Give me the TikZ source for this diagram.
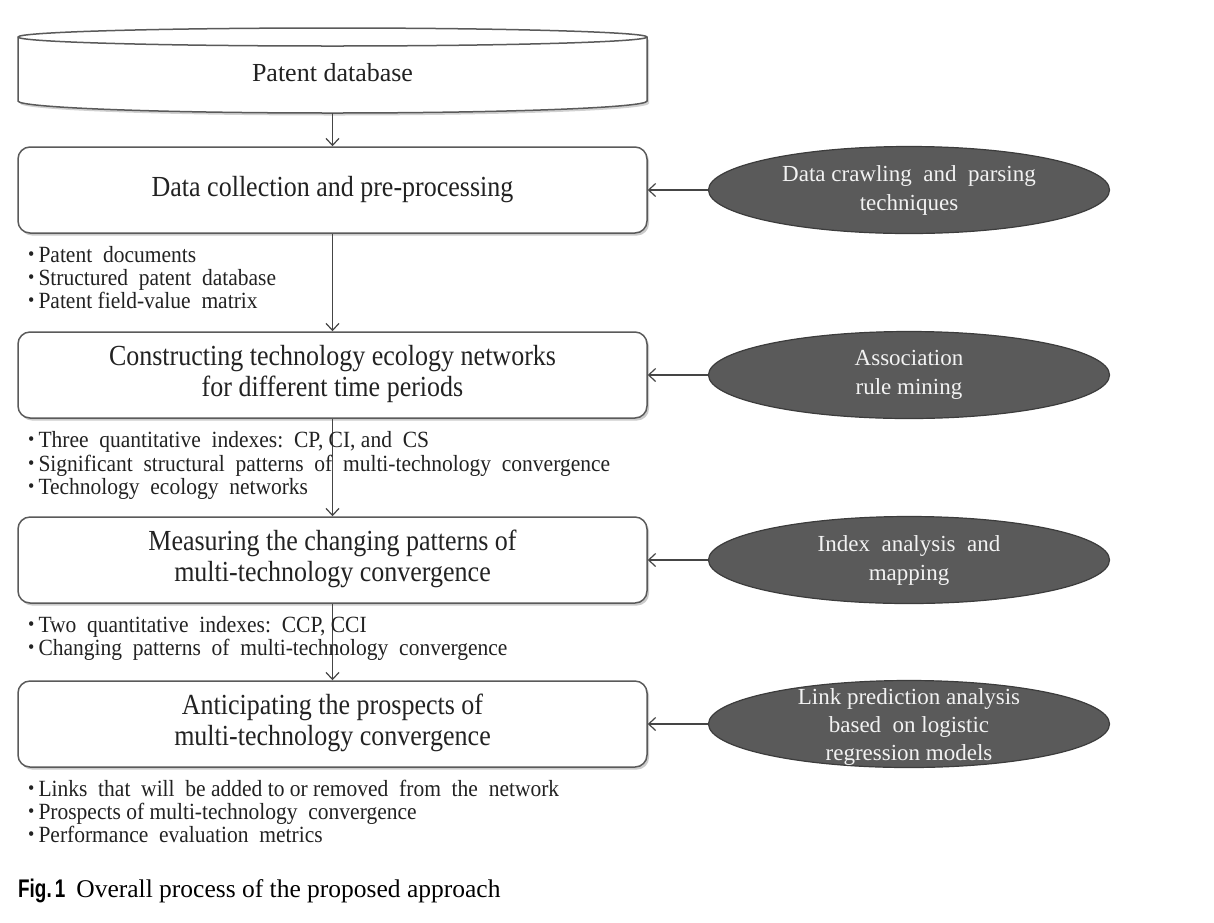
\documentclass[tikz,border=0pt]{standalone}
\usepackage{fontspec}
\usepackage{graphicx}
\setmainfont{Liberation Serif}
\setsansfont{Liberation Sans}
\usetikzlibrary{shapes.geometric,arrows.meta,shadows}
\definecolor{ellfill}{HTML}{5A5A5A}
\definecolor{elldraw}{HTML}{3C3C3C}
\definecolor{lncol}{HTML}{454545}
\definecolor{boxcol}{HTML}{5A5A5A}
\definecolor{txtcol}{HTML}{222222}
\definecolor{etxt}{HTML}{F2F2F2}
\newcommand{\tallbox}[1]{\scalebox{1}[1.12]{\begin{tabular}{@{}c@{}}#1\end{tabular}}}
\newcommand{\bl}{{\fontsize{18}{18}\selectfont\raisebox{0.15ex}{•}}\hspace{4pt}}
\newcommand{\bitem}[1]{\scalebox{1}[1.08]{\bl #1}}
\begin{document}
\begin{tikzpicture}[x=1pt,y=-1pt,
  conn/.style={draw=lncol, line width=1.2pt, -{Straight Barb[length=7pt,width=13pt,line width=1.2pt]}},
  stepbox/.style={draw=boxcol, line width=1.5pt, rounded corners=12pt, fill=white,
    minimum width=629pt, minimum height=86pt, inner sep=0pt, align=center,
    text=txtcol, font=\fontsize{26}{27}\selectfont,
    drop shadow={shadow xshift=2pt,shadow yshift=-2.5pt,fill=black!45,opacity=0.45}},
  tool/.style={ellipse, draw=elldraw, line width=1.2pt, fill=ellfill,
    minimum width=401pt, minimum height=87pt, inner sep=0pt},
  tooltext/.style={align=center, text=etxt, inner sep=0pt,
    font=\fontsize{23}{29}\selectfont},
  bul/.style={anchor=base west, inner sep=0pt, text=txtcol,
    font=\fontsize{21.5}{23}\selectfont},
]
\useasboundingbox (0,0) rectangle (1214,922);
\fill[white] (0,0) rectangle (1214,922);

% patent database cylinder
\fill[black!40,opacity=0.45,xshift=2pt,yshift=-2.5pt] (18,37) -- (18,101) arc[start angle=180,end angle=360,x radius=314.5pt,y radius=12pt] -- (647,37) -- cycle;
\filldraw[draw=boxcol, line width=1.5pt, fill=white] (18,37) -- (18,101) arc[start angle=180,end angle=360,x radius=314.5pt,y radius=12pt] -- (647,37) arc[start angle=0,end angle=180,x radius=314.5pt,y radius=9pt] -- cycle;
\draw[draw=boxcol, line width=1.5pt] (18,37) arc[start angle=180,end angle=360,x radius=314.5pt,y radius=9pt];
\node[text=txtcol, font=\fontsize{26}{30}\selectfont] (db) at (332.5,73) {Patent database};
\coordinate (dbbot) at (332.5,113);

% process boxes
\node[stepbox] (s1) at (332.5,190) {\tallbox{Data collection and pre-processing}};
\node[stepbox] (s2) at (332.5,375) {\tallbox{Constructing technology ecology networks\\for different time periods}};
\node[stepbox] (s3) at (332.5,560) {\tallbox{Measuring the changing patterns of\\multi-technology convergence}};
\node[stepbox] (s4) at (332.5,724) {\tallbox{Anticipating the prospects of\\multi-technology convergence}};

% tool ellipses
\node[tool] (t1) at (909,190) {};
\node[tooltext] (t1l) at (t1) {Data crawling\ \ and\ \ parsing\\techniques};
\node[tool] (t2) at (909,375) {};
\node[tooltext] (t2l) at (t2) {Association\\rule mining};
\node[tool] (t3) at (909,560) {};
\node[tooltext] (t3l) at (t3) {Index\ \ analysis\ \ and\\mapping};
\node[tool] (t4) at (909,724) {};
\node[tooltext, font=\fontsize{23}{28}\selectfont] (t4l) at ([yshift=-3pt]t4.center) {Link prediction analysis\\based\ \ on logistic\\regression models};

% connectors
\draw[conn] (dbbot) -- (s1.north);
\draw[conn] (s1.south) -- (s2.north);
\draw[conn] (s2.south) -- (s3.north);
\draw[conn] (s3.south) -- (s4.north);
\draw[conn] (t1.west) -- (s1.east);
\draw[conn] (t2.west) -- (s2.east);
\draw[conn] (t3.west) -- (s3.east);
\draw[conn] (t4.west) -- (s4.east);

% outputs
\node[bul] (o11) at (28,262) {\bitem{Patent\ \ documents}};
\node[bul] (o12) at (28,285) {\bitem{Structured\ \ patent\ \ database}};
\node[bul] (o13) at (28,308) {\bitem{Patent field-value\ \ matrix}};
\node[bul] (o21) at (28,447) {\bitem{Three\ \ quantitative\ \ indexes:\ \ CP, CI, and\ \ CS}};
\node[bul] (o22) at (28,471) {\bitem{Significant\ \ structural\ \ patterns\ \ of\ \ multi-technology\ \ convergence}};
\node[bul] (o23) at (28,494) {\bitem{Technology\ \ ecology\ \ networks}};
\node[bul] (o31) at (28,632) {\bitem{Two\ \ quantitative\ \ indexes:\ \ CCP, CCI}};
\node[bul] (o32) at (28,655) {\bitem{Changing\ \ patterns\ \ of\ \ multi-technology\ \ convergence}};
\node[bul] (o41) at (28,796) {\bitem{Links\ \ that\ \ will\ \ be added to or removed\ \ from\ \ the\ \ network}};
\node[bul] (o42) at (28,819) {\bitem{Prospects of multi-technology\ \ convergence}};
\node[bul] (o43) at (28,842) {\bitem{Performance\ \ evaluation\ \ metrics}};

% caption
\node[anchor=base west, inner sep=0pt, font=\fontsize{25.5}{28}\selectfont] (cap) at (18,897)
  {\scalebox{0.74}[1]{\sffamily\bfseries Fig.\,1}\hspace{11pt}Overall process of the proposed approach};
\end{tikzpicture}
\end{document}
